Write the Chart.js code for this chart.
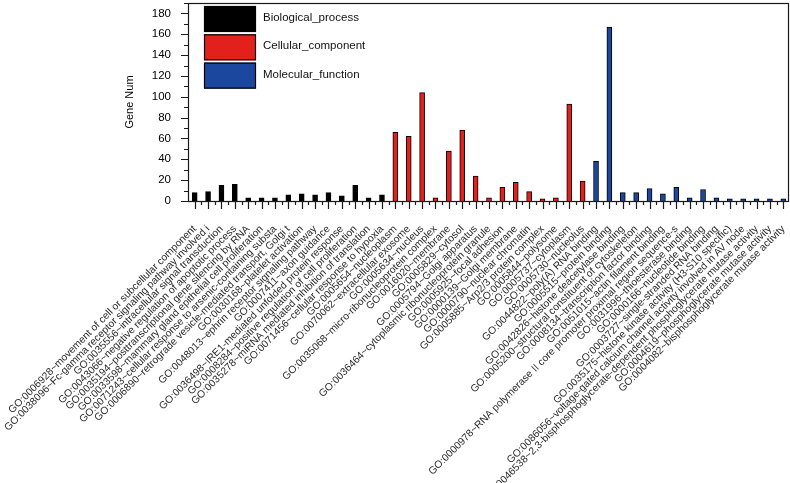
<!DOCTYPE html>
<html>
<head>
<meta charset="utf-8">
<script src="https://cdn.jsdelivr.net/npm/chart.js@4/dist/chart.umd.min.js"></script>
<style>
  html, body { margin: 0; padding: 0; background: #fff; }
</style>
</head>
<body>
<canvas id="goChart" width="790" height="483"></canvas>
<script>
// GO enrichment bar chart (gene counts per GO term)

// ============================
// DATA
// ============================
const bpTerms = [
  "GO:0006928~movement of cell or subcellular component",
  "GO:0038096~Fc-gamma receptor signaling pathway involved i",
  "GO:0035556~intracellular signal transduction",
  "GO:0043066~negative regulation of apoptotic process",
  "GO:0035194~posttranscriptional gene silencing by RNA",
  "GO:0033598~mammary gland epithelial cell proliferation",
  "GO:0071243~cellular response to arsenic-containing substa",
  "GO:0006890~retrograde vesicle-mediated transport, Golgi t",
  "GO:0030168~platelet activation",
  "GO:0048013~ephrin receptor signaling pathway",
  "GO:0007411~axon guidance",
  "GO:0036498~IRE1-mediated unfolded protein response",
  "GO:0008284~positive regulation of cell proliferation",
  "GO:0035278~miRNA mediated inhibition of translation",
  "GO:0071456~cellular response to hypoxia"
];
const bpCounts = [8, 9, 15, 16, 3, 3, 3, 6, 7, 6, 8, 5, 15, 3, 6];

const ccTerms = [
  "GO:0005654~nucleoplasm",
  "GO:0070062~extracellular exosome",
  "GO:0005634~nucleus",
  "GO:0035068~micro-ribonucleoprotein complex",
  "GO:0016020~membrane",
  "GO:0005829~cytosol",
  "GO:0005794~Golgi apparatus",
  "GO:0036464~cytoplasmic ribonucleoprotein granule",
  "GO:0005925~focal adhesion",
  "GO:0000139~Golgi membrane",
  "GO:0000790~nuclear chromatin",
  "GO:0005885~Arp2/3 protein complex",
  "GO:0005844~polysome",
  "GO:0005737~cytoplasm",
  "GO:0005730~nucleolus"
];
const ccCounts = [66, 62, 104, 3, 48, 68, 24, 3, 13, 18, 9, 2, 3, 93, 19];

const mfTerms = [
  "GO:0044822~poly(A) RNA binding",
  "GO:0005515~protein binding",
  "GO:0042826~histone deacetylase binding",
  "GO:0005200~structural constituent of cytoskeleton",
  "GO:0008134~transcription factor binding",
  "GO:0051015~actin filament binding",
  "GO:0000978~RNA polymerase II core promoter proximal region sequence-s",
  "GO:0031996~thioesterase binding",
  "GO:0000166~nucleotide binding",
  "GO:0003727~single-stranded RNA binding",
  "GO:0035175~histone kinase activity (H3-S10 specific)",
  "GO:0086056~voltage-gated calcium channel activity involved in AV node",
  "GO:0046538~2,3-bisphosphoglycerate-dependent phosphoglycerate mutase activity",
  "GO:0004619~phosphoglycerate mutase activity",
  "GO:0004082~bisphosphoglycerate mutase activity"
];
const mfCounts = [38, 167, 8, 8, 12, 7, 13, 3, 11, 3, 2, 2, 2, 2, 2];

const seriesNames = ["Biological_process", "Cellular_component", "Molecular_function"];
const seriesColors = ["#000000", "#e3211c", "#1b489e"];

const yTicks = [0, 20, 40, 60, 80, 100, 120, 140, 160, 180];

// ============================
// BUILD DATASETS
// ============================
const allTerms = [...bpTerms, ...ccTerms, ...mfTerms];

function padSeries(values, before, after) {
  return [...Array(before).fill(null), ...values, ...Array(after).fill(null)];
}

const datasets = [
  padSeries(bpCounts, 0, ccTerms.length + mfTerms.length),
  padSeries(ccCounts, bpTerms.length, mfTerms.length),
  padSeries(mfCounts, bpTerms.length + ccTerms.length, 0)
].map((data, i) => ({
  label: seriesNames[i],
  data: data,
  backgroundColor: seriesColors[i],
  borderColor: "#000",
  borderWidth: 1,
  barThickness: 5,
  grouped: false
}));

// ============================
// FRAME, TICK MARKS, LEGEND
// ============================
const frameAndLegend = {
  id: "frameAndLegend",
  afterDraw(chart) {
    const { ctx, chartArea: area, scales } = chart;
    const xScale = scales.x;
    const yScale = scales.y;
    const right = Math.min(area.right, chart.width - 2);

    ctx.save();
    ctx.strokeStyle = "#1a1a1a";
    ctx.lineWidth = 1.2;

    // plot frame
    ctx.strokeRect(area.left + 0.5, area.top + 0.5, right - area.left, area.bottom - area.top);

    ctx.beginPath();
    // y ticks: long every 20, short every 10
    for (let v = 0; v <= yScale.max; v += 10) {
      const py = Math.round(yScale.getPixelForValue(v)) + 0.5;
      const len = yTicks.includes(v) ? 7 : 4;
      ctx.moveTo(area.left - len, py);
      ctx.lineTo(area.left, py);
    }
    // x ticks: long at bars, short between
    const half = (xScale.getPixelForValue(1) - xScale.getPixelForValue(0)) / 2;
    allTerms.forEach((_, i) => {
      const px = Math.round(xScale.getPixelForValue(i)) + 0.5;
      if (px <= right) {
        ctx.moveTo(px, area.bottom);
        ctx.lineTo(px, area.bottom + 8);
      }
      const pb = Math.round(xScale.getPixelForValue(i) + half) + 0.5;
      if (pb <= right) {
        ctx.moveTo(pb, area.bottom);
        ctx.lineTo(pb, area.bottom + 4);
      }
    });
    ctx.stroke();

    // legend
    ctx.font = "11.5px 'Liberation Sans', Arial, sans-serif";
    ctx.textBaseline = "middle";
    seriesNames.forEach((name, i) => {
      const bx = area.left + 16;
      const by = area.top + 3 + i * 28.3;
      ctx.fillStyle = seriesColors[i];
      ctx.fillRect(bx, by, 52, 26);
      ctx.strokeStyle = "#000";
      ctx.lineWidth = 1.2;
      ctx.strokeRect(bx + 0.5, by + 0.5, 51, 25);
      ctx.fillStyle = "#111";
      ctx.fillText(name, bx + 59, by + 12);
    });

    ctx.restore();
  }
};

// ============================
// CHART
// ============================
Chart.defaults.font.family = "'Liberation Sans', Arial, sans-serif";

new Chart(document.getElementById("goChart").getContext("2d"), {
  type: "bar",
  data: {
    labels: allTerms,
    datasets: datasets
  },
  options: {
    responsive: false,
    animation: false,
    layout: { padding: { left: 0, right: -7, top: 3, bottom: 0 } },
    plugins: {
      legend: { display: false },
      tooltip: { enabled: false }
    },
    scales: {
      x: {
        grid: { display: false },
        border: { display: false },
        ticks: {
          autoSkip: false,
          minRotation: 45,
          maxRotation: 45,
          padding: 14,
          color: "#2a2a2a",
          font: { size: 10.3 }
        },
        afterFit(scale) {
          scale.height = 282;
          scale.paddingLeft = 0;
          scale.paddingRight = 0;
        }
      },
      y: {
        min: 0,
        max: 190,
        grid: { display: false },
        border: { display: false },
        ticks: {
          stepSize: 10,
          padding: 9,
          color: "#000",
          font: { size: 11.5 },
          callback: v => (yTicks.includes(v) ? v : "")
        },
        title: {
          display: true,
          text: "Gene Num",
          color: "#000",
          font: { size: 11 },
          padding: { top: 123, bottom: 0 }
        },
        afterFit(scale) {
          scale.width = 188;
          scale.paddingTop = 0;
          scale.paddingBottom = 0;
        }
      }
    }
  },
  plugins: [frameAndLegend]
});
</script>
</body>
</html>
